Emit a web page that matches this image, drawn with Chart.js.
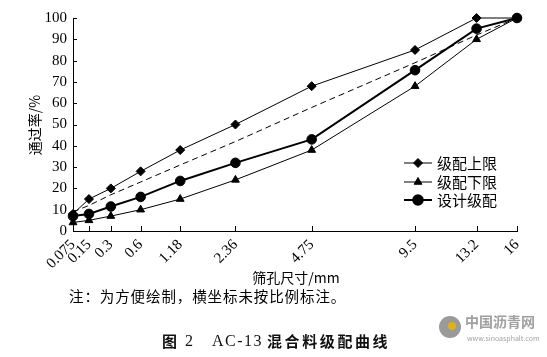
<!DOCTYPE html>
<html>
<head>
<meta charset="utf-8">
<script src="https://cdn.jsdelivr.net/npm/chart.js@4.4.1/dist/chart.umd.min.js"></script>
<style>
html,body{margin:0;padding:0;background:#fff;}
#wrap{position:relative;width:547px;height:357px;}
</style>
</head>
<body>
<div id="wrap"><canvas id="c" width="547" height="357"></canvas></div>
<script>
// ---- data ----
const sieveSizes = [0.075, 0.15, 0.3, 0.6, 1.18, 2.36, 4.75, 9.5, 13.2, 16];
const sieveLabels = ['0.075', '0.15', '0.3', '0.6', '1.18', '2.36', '4.75', '9.5', '13.2', '16'];
const upperLimit = [8, 15, 20, 28, 38, 50, 68, 85, 100, 100];
const lowerLimit = [4, 5, 7, 10, 15, 24, 38, 68, 90, 100];
const designGrading = [7, 8, 11.5, 16, 23.5, 32, 43, 75.5, 95, 100];
const maxDensityLine = [9, 12, 17, 23, 31, 42, 58, 79, 92, 100];
const yTickValues = [0, 10, 20, 30, 40, 50, 60, 70, 80, 90, 100];
const seriesNames = ['级配上限', '级配下限', '设计级配'];
const xTitle = '筛孔尺寸/mm';
const yTitle = '通过率/%';
const noteText = '注：为方便绘制，横坐标未按比例标注。';
const captionParts = ['图', '2', 'AC-13', '混合料级配曲线'];

// the x axis uses the 0.45 power scale of the grading chart
const POWER = 0.45;
const xPos = d => Math.pow(d, POWER);
const pts = arr => arr.map((v, i) => ({x: xPos(sieveSizes[i]), y: v}));

const serif = '"Liberation Serif", "Times New Roman", serif';
const cjk = '"Noto Sans CJK SC", "Noto Sans", sans-serif';

function spaced(ctx, text, x, y, step) {
  for (const ch of text) { ctx.fillText(ch, x, y); x += step; }
}

const decor = {
  id: 'decor',
  afterDraw(chart) {
    const ctx = chart.ctx;
    const xs = chart.scales.x, ys = chart.scales.y;
    const a = chart.chartArea;
    ctx.save();
    ctx.strokeStyle = '#000';
    ctx.lineWidth = 1;
    // inward tick marks
    ctx.beginPath();
    yTickValues.forEach(v => {
      const y = Math.round(ys.getPixelForValue(v)) + 0.5;
      ctx.moveTo(a.left, y); ctx.lineTo(a.left + 4, y);
    });
    sieveSizes.forEach(d => {
      const x = Math.round(xs.getPixelForValue(xPos(d))) + 0.5;
      ctx.moveTo(x, a.bottom); ctx.lineTo(x, a.bottom - 5);
    });
    ctx.stroke();

    // legend
    const ds = chart.data.datasets;
    const rows = [163, 182, 200];
    [0, 1, 2].forEach(i => {
      const d = ds[i];
      const y = rows[i];
      ctx.strokeStyle = '#000';
      ctx.lineWidth = d.borderWidth;
      ctx.beginPath(); ctx.moveTo(404, y); ctx.lineTo(432, y); ctx.stroke();
      ctx.fillStyle = '#000';
      Chart.helpers.drawPoint(ctx, {pointStyle: d.pointStyle, radius: d.pointRadius, rotation: 0, borderWidth: 1}, 418, y);
      ctx.fillStyle = '#000';
      ctx.font = '15px ' + cjk;
      ctx.textAlign = 'left';
      ctx.textBaseline = 'middle';
      ctx.fillText(seriesNames[i], 437, y);
    });

    // axis titles
    ctx.fillStyle = '#000';
    ctx.font = '14px ' + cjk;
    ctx.textAlign = 'center';
    ctx.textBaseline = 'middle';
    ctx.save();
    ctx.translate(35, 125);
    ctx.rotate(-Math.PI / 2);
    ctx.fillText(yTitle, 0, 0);
    ctx.restore();
    ctx.fillText(xTitle, 296, 278);

    // note
    ctx.textAlign = 'left';
    ctx.font = '14.5px ' + cjk;
    spaced(ctx, noteText, 69, 296, 15.4);

    // caption
    ctx.fillStyle = '#111';
    ctx.font = 'bold 15px ' + cjk;
    ctx.fillText(captionParts[0], 162, 341);
    ctx.font = '16px ' + serif;
    ctx.fillText(captionParts[1], 185, 342);
    ctx.save();
    ctx.letterSpacing = '1.5px';
    ctx.fillText(captionParts[2], 212, 342);
    ctx.restore();
    ctx.font = 'bold 15px ' + cjk;
    spaced(ctx, captionParts[3], 267, 341, 17.6);

    // watermark
    ctx.fillStyle = '#9a9a9a';
    ctx.beginPath(); ctx.arc(450, 327, 11, 0, Math.PI * 2); ctx.fill();
    ctx.fillStyle = '#e0b020';
    ctx.beginPath(); ctx.arc(452, 326, 4, 0, Math.PI * 2); ctx.fill();
    ctx.fillStyle = '#a0a0a0';
    ctx.font = 'bold 14px ' + cjk;
    ctx.fillText('中国沥青网', 465, 322);
    ctx.font = '7px ' + cjk;
    ctx.fillText('www.sinoasphalt.com', 467, 338);
    ctx.restore();
  }
};

new Chart(document.getElementById('c'), {
  type: 'line',
  data: {
    datasets: [
      {label: seriesNames[0], data: pts(upperLimit), borderColor: '#000', backgroundColor: '#000',
       borderWidth: 1, pointStyle: 'rectRot', pointRadius: 4.5, pointBorderWidth: 1, clip: false},
      {label: seriesNames[1], data: pts(lowerLimit), borderColor: '#000', backgroundColor: '#000',
       borderWidth: 1, pointStyle: 'triangle', pointRadius: 4.5, pointBorderWidth: 1, clip: false},
      {label: seriesNames[2], data: pts(designGrading), borderColor: '#000', backgroundColor: '#000',
       borderWidth: 2, pointStyle: 'circle', pointRadius: 4.8, pointBorderWidth: 1, clip: false},
      {label: '最大密度线', data: pts(maxDensityLine), borderColor: '#000', borderWidth: 1,
       borderDash: [6, 4], pointRadius: 0, clip: false}
    ]
  },
  options: {
    responsive: false,
    animation: false,
    devicePixelRatio: 1,
    layout: {padding: {left: 0, top: 18, right: 30, bottom: 0}},
    plugins: {legend: {display: false}, tooltip: {enabled: false}},
    elements: {line: {tension: 0}},
    scales: {
      x: {
        type: 'linear',
        min: xPos(sieveSizes[0]),
        max: xPos(sieveSizes[sieveSizes.length - 1]),
        afterBuildTicks: s => { s.ticks = sieveSizes.map(d => ({value: xPos(d)})); },
        afterFit: s => { s.height = 357 - 231; },
        grid: {display: false, drawTicks: false},
        border: {display: true, color: '#000', width: 1},
        ticks: {
          autoSkip: false, maxRotation: 45, minRotation: 45, padding: 5,
          color: '#000', font: {family: serif, size: 15},
          callback: (v, i) => sieveLabels[i]
        }
      },
      y: {
        min: 0, max: 100,
        afterBuildTicks: s => { s.ticks = yTickValues.map(v => ({value: v})); },
        afterFit: s => { s.width = 73; },
        grid: {display: false, drawTicks: false},
        border: {display: true, color: '#000', width: 1},
        ticks: {padding: 6, color: '#000', font: {family: serif, size: 15}}
      }
    }
  },
  plugins: [decor]
});
</script>
</body>
</html>
